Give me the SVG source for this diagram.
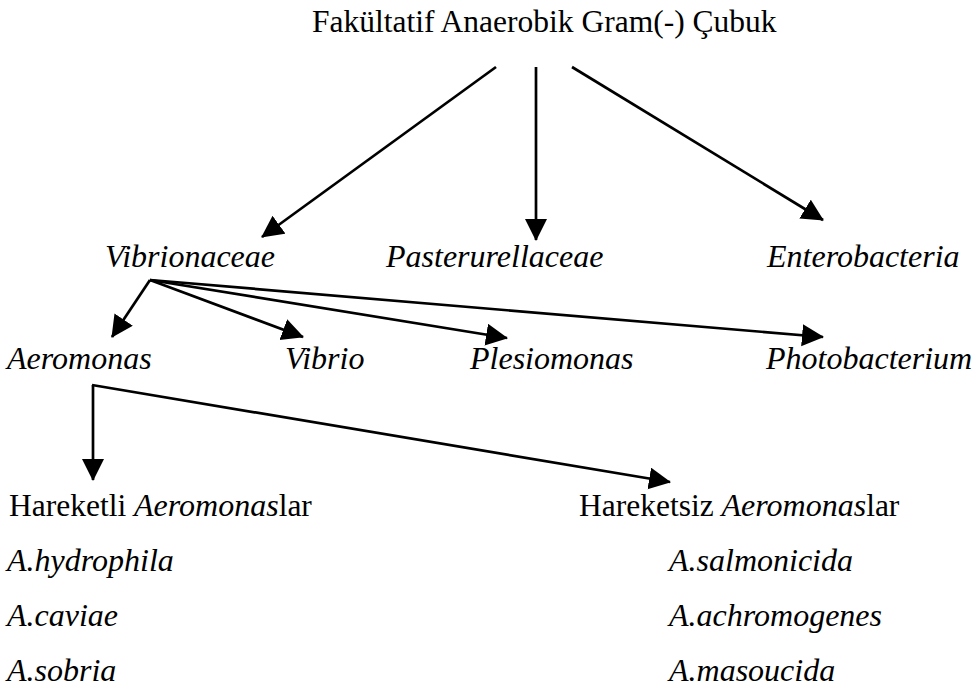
<svg xmlns="http://www.w3.org/2000/svg" width="976" height="692" viewBox="0 0 976 692">
<defs>
<marker id="ah" markerUnits="userSpaceOnUse" markerWidth="23" markerHeight="23" refX="21" refY="11" orient="auto">
<path d="M0,0 L22,11 L0,22 z" fill="#000"/>
</marker>
</defs>
<rect width="976" height="692" fill="#fff"/>
<g id="connectors" stroke="#000" stroke-width="2.7" fill="none">
<line x1="496" y1="67" x2="262" y2="237" marker-end="url(#ah)"/>
<line x1="536" y1="67" x2="536" y2="240" marker-end="url(#ah)"/>
<line x1="572" y1="67" x2="823" y2="220" marker-end="url(#ah)"/>
<line x1="150" y1="280" x2="112" y2="337" marker-end="url(#ah)"/>
<line x1="150" y1="280" x2="303" y2="337" marker-end="url(#ah)"/>
<line x1="150" y1="280" x2="507" y2="338" marker-end="url(#ah)"/>
<line x1="150" y1="280" x2="823" y2="337" marker-end="url(#ah)"/>
<line x1="93" y1="385" x2="93" y2="480" marker-end="url(#ah)"/>
<line x1="92" y1="385" x2="670" y2="482" marker-end="url(#ah)"/>
</g>
<g id="root"><text x="312" y="32" font-family="Liberation Serif" font-size="31.5">Fakültatif Anaerobik Gram(-) Çubuk</text></g>
<g id="vibrionaceae"><text x="105" y="267" font-family="Liberation Serif" font-style="italic" font-size="32">Vibrionaceae</text></g>
<g id="pasterurellaceae"><text x="386" y="267" font-family="Liberation Serif" font-style="italic" font-size="32">Pasterurellaceae</text></g>
<g id="enterobacteria"><text x="767" y="267" font-family="Liberation Serif" font-style="italic" font-size="32">Enterobacteria</text></g>
<g id="aeromonas"><text x="7" y="369" font-family="Liberation Serif" font-style="italic" font-size="32">Aeromonas</text></g>
<g id="vibrio"><text x="285" y="369" font-family="Liberation Serif" font-style="italic" font-size="32">Vibrio</text></g>
<g id="plesiomonas"><text x="470" y="369" font-family="Liberation Serif" font-style="italic" font-size="32">Plesiomonas</text></g>
<g id="photobacterium"><text x="766" y="369" font-family="Liberation Serif" font-style="italic" font-size="32">Photobacterium</text></g>
<g id="hareketli">
<text x="9" y="516" font-family="Liberation Serif" font-size="31.5">Hareketli <tspan font-style="italic" font-size="32">Aeromonas</tspan>lar</text>
<text x="7" y="571" font-family="Liberation Serif" font-style="italic" font-size="32">A.hydrophila</text>
<text x="7" y="626" font-family="Liberation Serif" font-style="italic" font-size="32">A.caviae</text>
<text x="7" y="681" font-family="Liberation Serif" font-style="italic" font-size="32">A.sobria</text>
</g>
<g id="hareketsiz">
<text x="579" y="516" font-family="Liberation Serif" font-size="31.5">Hareketsiz <tspan font-style="italic" font-size="32">Aeromonas</tspan>lar</text>
<text x="669" y="571" font-family="Liberation Serif" font-style="italic" font-size="32">A.salmonicida</text>
<text x="669" y="626" font-family="Liberation Serif" font-style="italic" font-size="32">A.achromogenes</text>
<text x="669" y="681" font-family="Liberation Serif" font-style="italic" font-size="32">A.masoucida</text>
</g>
</svg>
